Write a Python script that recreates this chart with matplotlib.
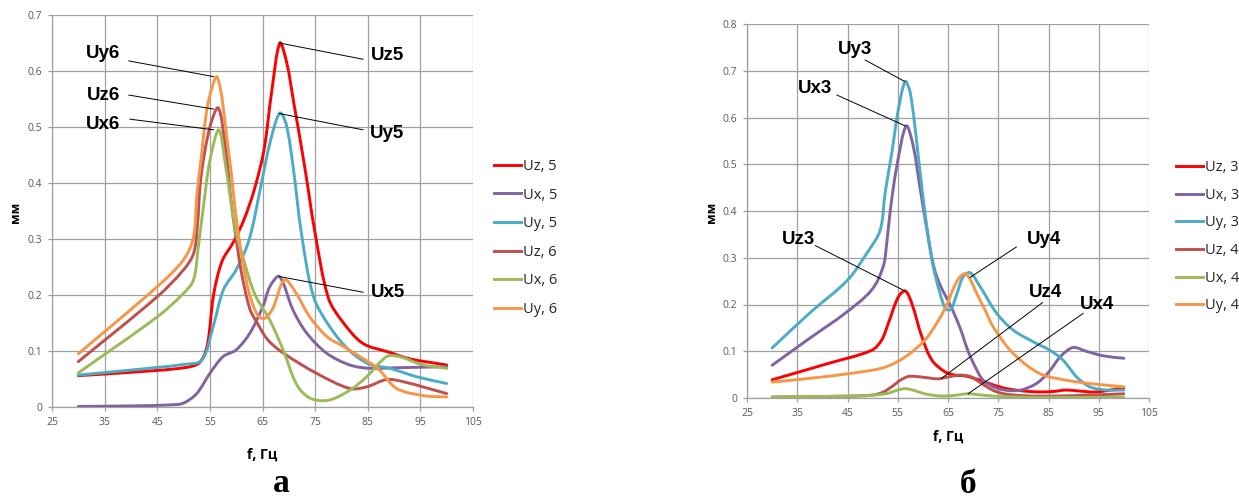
import numpy as np
import matplotlib
matplotlib.use("Agg")
import matplotlib.pyplot as plt
from matplotlib.path import Path
from matplotlib.patches import PathPatch
from matplotlib.lines import Line2D

# ---------------- data: panel "а" (nodes 5 and 6) ----------------
uz5_f = [30, 40, 50, 53, 54.5, 55.7, 57.3, 59.5, 61.5, 63.5, 65.3, 66.7, 68.3, 69.6, 71, 73, 75, 77.5, 80, 84, 89, 93, 100]
uz5_u = [0.056, 0.062, 0.070, 0.079, 0.11, 0.20, 0.26, 0.295, 0.335, 0.39, 0.46, 0.56, 0.65, 0.615, 0.54, 0.43, 0.31, 0.195, 0.155, 0.114, 0.098, 0.086, 0.075]

ux5_f = [30, 40, 48, 50, 52.5, 55, 57.5, 60, 62.6, 65.1, 66.4, 68.2, 70.8, 73.4, 77.2, 81.6, 85.4, 90, 100]
ux5_u = [0.001, 0.002, 0.004, 0.007, 0.024, 0.06, 0.09, 0.102, 0.132, 0.18, 0.215, 0.233, 0.173, 0.132, 0.096, 0.075, 0.069, 0.07, 0.072]

uy5_f = [30, 40, 50, 53.5, 55.6, 57.6, 60, 62.5, 64.8, 66.5, 68.3, 69.5, 70.8, 72.4, 74.7, 77.8, 81.6, 85.4, 89.2, 94.3, 100]
uy5_u = [0.057, 0.066, 0.076, 0.084, 0.143, 0.21, 0.245, 0.30, 0.40, 0.475, 0.525, 0.505, 0.43, 0.31, 0.197, 0.143, 0.10, 0.076, 0.069, 0.054, 0.042]

uz6_f = [30, 45, 50, 51.9, 52.6, 53.3, 55, 56.6, 58, 59, 60, 61, 62.6, 64, 66, 69, 75.3, 81.6, 84.8, 88.6, 91.8, 100]
uz6_u = [0.081, 0.197, 0.245, 0.274, 0.32, 0.41, 0.50, 0.534, 0.46, 0.37, 0.30, 0.24, 0.175, 0.15, 0.12, 0.096, 0.06, 0.033, 0.036, 0.049, 0.045, 0.024]

ux6_f = [30, 45, 50, 51.9, 52.8, 53.8, 55, 56.7, 58, 59.8, 61.5, 63.6, 66.4, 69, 71.5, 74, 77.5, 81.6, 84.8, 88.6, 91, 95.2, 100]
ux6_u = [0.061, 0.161, 0.203, 0.227, 0.286, 0.36, 0.44, 0.495, 0.43, 0.32, 0.26, 0.20, 0.155, 0.10, 0.04, 0.016, 0.012, 0.03, 0.054, 0.09, 0.09, 0.076, 0.069]

uy6_f = [30, 45, 50, 51.9, 52.5, 53.3, 54.6, 56.4, 58.5, 60.4, 62.3, 64, 65.3, 66.9, 69.2, 71.4, 73.9, 77.2, 80, 83.5, 87, 90.5, 95.8, 100]
uy6_u = [0.095, 0.215, 0.263, 0.304, 0.376, 0.44, 0.54, 0.589, 0.46, 0.31, 0.21, 0.165, 0.158, 0.175, 0.227, 0.203, 0.162, 0.126, 0.11, 0.09, 0.068, 0.033, 0.02, 0.018]

# ---------------- data: panel "б" (nodes 3 and 4) ----------------
uz3_f = [30, 41.2, 49.8, 51.8, 53.1, 55.1, 56.5, 57.8, 59.8, 61.8, 64.4, 66.4, 68.5, 71.4, 74, 76.7, 80, 83.3, 86, 88.5, 91, 94.5, 100]
uz3_u = [0.039, 0.074, 0.102, 0.124, 0.159, 0.216, 0.229, 0.202, 0.131, 0.081, 0.056, 0.049, 0.047, 0.038, 0.028, 0.02, 0.015, 0.013, 0.014, 0.017, 0.015, 0.013, 0.022]

ux3_f = [30, 37.9, 44.5, 49.8, 52.1, 52.8, 53.5, 54.8, 56.7, 58.1, 59.4, 60.8, 62.2, 63.5, 65.4, 67.4, 69, 70.5, 72, 74.5, 77, 79.5, 82.6, 85, 87.5, 89.9, 92.5, 96, 100]
ux3_u = [0.07, 0.131, 0.181, 0.231, 0.281, 0.33, 0.40, 0.495, 0.582, 0.538, 0.452, 0.36, 0.28, 0.24, 0.20, 0.15, 0.10, 0.065, 0.038, 0.022, 0.016, 0.017, 0.031, 0.055, 0.09, 0.108, 0.10, 0.09, 0.085]

uy3_f = [30, 37.5, 45, 48.8, 51.5, 52.5, 53.8, 55.1, 56.5, 57.5, 58.8, 60.1, 61.8, 63.4, 64.6, 65.6, 66.8, 68, 69.4, 71.4, 74.7, 78, 82, 85.3, 87.9, 90.6, 93.2, 96.5, 100]
uy3_u = [0.107, 0.182, 0.252, 0.309, 0.359, 0.44, 0.523, 0.616, 0.677, 0.652, 0.545, 0.423, 0.295, 0.224, 0.19, 0.19, 0.224, 0.259, 0.268, 0.238, 0.181, 0.145, 0.12, 0.102, 0.081, 0.045, 0.024, 0.017, 0.017]

uz4_f = [30, 45, 49.8, 52, 53.8, 55.5, 57.1, 58.5, 60.4, 63, 65, 67.4, 69.4, 71, 72.7, 74.5, 76.7, 80, 83.3, 90, 100]
uz4_u = [0.002, 0.004, 0.006, 0.012, 0.024, 0.038, 0.046, 0.046, 0.044, 0.041, 0.045, 0.049, 0.046, 0.036, 0.024, 0.014, 0.008, 0.005, 0.004, 0.005, 0.009]

ux4_f = [30, 45, 50, 53, 55, 56.5, 58, 60, 62, 64, 66.5, 69, 72, 76, 85, 100]
ux4_u = [0.002, 0.004, 0.006, 0.01, 0.017, 0.02, 0.017, 0.01, 0.006, 0.004, 0.006, 0.009, 0.006, 0.003, 0.001, 0.002]

uy4_f = [30, 40, 47.8, 52.5, 56.5, 60.4, 63.1, 64.8, 66.1, 67.3, 68.5, 69.6, 70.7, 72.3, 74, 78, 83.3, 88.6, 93.2, 100]
uy4_u = [0.034, 0.045, 0.056, 0.066, 0.088, 0.124, 0.166, 0.2, 0.235, 0.258, 0.266, 0.25, 0.224, 0.19, 0.152, 0.095, 0.052, 0.038, 0.031, 0.024]

x_ticks = [25, 35, 45, 55, 65, 75, 85, 95, 105]
y_ticks_a = [0, 0.1, 0.2, 0.3, 0.4, 0.5, 0.6, 0.7]
y_ticks_b = [0, 0.1, 0.2, 0.3, 0.4, 0.5, 0.6, 0.7, 0.8]

C_RED = "#FF0000"
C_PURPLE = "#8064A2"
C_TEAL = "#4BACC6"
C_BROWN = "#C0504D"
C_GREEN = "#9BBB59"
C_ORANGE = "#F79646"

series_a = [
    ("Uz, 5", uz5_f, uz5_u, C_RED),
    ("Ux, 5", ux5_f, ux5_u, C_PURPLE),
    ("Uy, 5", uy5_f, uy5_u, C_TEAL),
    ("Uz, 6", uz6_f, uz6_u, C_BROWN),
    ("Ux, 6", ux6_f, ux6_u, C_GREEN),
    ("Uy, 6", uy6_f, uy6_u, C_ORANGE),
]
series_b = [
    ("Uz, 3", uz3_f, uz3_u, C_RED),
    ("Ux, 3", ux3_f, ux3_u, C_PURPLE),
    ("Uy, 3", uy3_f, uy3_u, C_TEAL),
    ("Uz, 4", uz4_f, uz4_u, C_BROWN),
    ("Ux, 4", ux4_f, ux4_u, C_GREEN),
    ("Uy, 4", uy4_f, uy4_u, C_ORANGE),
]

# (label, text x, text y, leader start x, y, leader end x, y)
notes_a = [
    ("Uy6", 34.7, 0.632, 39.6, 0.618, 55.7, 0.590),
    ("Uz6", 34.7, 0.557, 39.6, 0.557, 55.7, 0.532),
    ("Ux6", 34.7, 0.504, 39.8, 0.514, 55.7, 0.495),
    ("Uz5", 88.7, 0.627, 84.1, 0.621, 68.2, 0.650),
    ("Uy5", 88.7, 0.489, 84.1, 0.495, 68.2, 0.524),
    ("Ux5", 88.8, 0.205, 84.1, 0.205, 68.2, 0.233),
]
notes_b = [
    ("Uy3", 46.5, 0.745, 48.5, 0.723, 56.4, 0.677),
    ("Ux3", 38.6, 0.661, 42.9, 0.648, 56.5, 0.582),
    ("Uz3", 35.3, 0.340, 38.6, 0.326, 56.4, 0.229),
    ("Uy4", 84.1, 0.340, 78.6, 0.323, 69.4, 0.258),
    ("Uz4", 84.5, 0.226, 83.8, 0.204, 63.7, 0.042),
    ("Ux4", 94.7, 0.200, 91.9, 0.181, 69.0, 0.009),
]

W, H = 1239, 500
fig = plt.figure(figsize=(W / 100, H / 100), dpi=100)
fig.patch.set_facecolor("white")

GRID = "#A0A0A0"
TICK_FONT = "Open Sans"


def px_rect(l, t, r, b):
    return [l / W, 1 - b / H, (r - l) / W, (b - t) / H]


def smooth_line(ax, xs, ys, color, lw=2.1):
    """Draw a smoothed line through the points (cubic Bezier, Catmull-Rom style tangents)."""
    pts = ax.transData.transform(np.column_stack([xs, ys]))
    n = len(pts)
    verts = [pts[0]]
    codes = [Path.MOVETO]
    for i in range(n - 1):
        p0 = pts[max(i - 1, 0)]
        p1 = pts[i]
        p2 = pts[i + 1]
        p3 = pts[min(i + 2, n - 1)]
        d01 = np.hypot(*(p1 - p0))
        d12 = np.hypot(*(p2 - p1))
        d23 = np.hypot(*(p3 - p2))
        t1 = (p2 - p0) / max(d01 + d12, 1e-9)
        t2 = (p3 - p1) / max(d12 + d23, 1e-9)
        c1 = p1 + t1 * d12 / 3.0
        c2 = p2 - t2 * d12 / 3.0
        verts += [c1, c2, p2]
        codes += [Path.CURVE4] * 3
    verts = ax.transData.inverted().transform(np.array(verts))
    patch = PathPatch(Path(verts, codes), facecolor="none", edgecolor=color,
                      lw=lw, transform=ax.transData, capstyle="round", joinstyle="round",
                      zorder=3)
    ax.add_patch(patch)


def setup_axes(ax, ymax, yticks):
    ax.set_xlim(25, 105)
    ax.set_ylim(0, ymax)
    ax.set_xticks(x_ticks)
    ax.set_yticks(yticks)
    ax.set_xticklabels([str(v) for v in x_ticks])
    ax.set_yticklabels(["0"] + [f"{v:.1f}" for v in yticks[1:]])
    ax.grid(True, color=GRID, lw=0.9)
    ax.set_axisbelow(True)
    for s in ["top", "right"]:
        ax.spines[s].set_visible(False)
    for s in ["left", "bottom"]:
        ax.spines[s].set_color(GRID)
        ax.spines[s].set_linewidth(0.9)
    ax.tick_params(axis="both", direction="out", length=3, width=0.9, color=GRID,
                   labelsize=7.5, labelcolor="#595959", pad=4)
    for lab in ax.get_xticklabels() + ax.get_yticklabels():
        lab.set_fontfamily(TICK_FONT)


def draw_panel(ax, series, notes):
    for label, fx, uy, col in series:
        smooth_line(ax, fx, uy, col)
    for txt, tx, ty, x1, y1, x2, y2 in notes:
        ax.plot([x1, x2], [y1, y2], color="black", lw=0.7, zorder=4)
        ax.text(tx, ty, txt, ha="center", va="center", fontsize=13.5,
                fontweight="bold", family="Liberation Sans", zorder=5)


ax_a = fig.add_axes(px_rect(52, 15, 473, 407))
setup_axes(ax_a, 0.7, y_ticks_a)
draw_panel(ax_a, series_a, notes_a)

ax_b = fig.add_axes(px_rect(747, 24, 1149, 398))
setup_axes(ax_b, 0.8, y_ticks_b)
draw_panel(ax_b, series_b, notes_b)


def add_legend(ax, series, left_px, top_px, spacing):
    handles = [Line2D([], [], color=c, lw=2.1) for _, _, _, c in series]
    labels = [s[0] for s in series]
    leg = ax.legend(handles, labels, loc="upper left",
                    bbox_to_anchor=(left_px / W, 1 - top_px / H),
                    bbox_transform=fig.transFigure, frameon=False, borderpad=0,
                    borderaxespad=0, handlelength=1.85, handletextpad=0.15,
                    labelspacing=spacing, prop={"family": TICK_FONT, "size": 10.5})
    for t in leg.get_texts():
        t.set_color("#262626")
    return leg


add_legend(ax_a, series_a, 494, 159, 0.93)
add_legend(ax_b, series_b, 1176, 160, 0.87)

# axis titles
for x_px, y_px in [(15, 212), (711, 212)]:
    fig.text(x_px / W, 1 - y_px / H, "мм", rotation=90, ha="center", va="center",
             fontsize=9, fontweight="bold", family=TICK_FONT)
for x_px, y_px in [(262, 455), (948, 437)]:
    fig.text(x_px / W, 1 - y_px / H, "f, Гц", ha="center", va="center",
             fontsize=10, fontweight="bold", family=TICK_FONT)

# panel captions
fig.text(281 / W, 1 - 492 / H, "а", ha="center", va="baseline", fontsize=24,
         fontweight="bold", family="Liberation Serif")
fig.text(968 / W, 1 - 493 / H, "б", ha="center", va="baseline", fontsize=24,
         fontweight="bold", family="Liberation Serif")

fig.savefig("out.png", dpi=100, facecolor="white")
